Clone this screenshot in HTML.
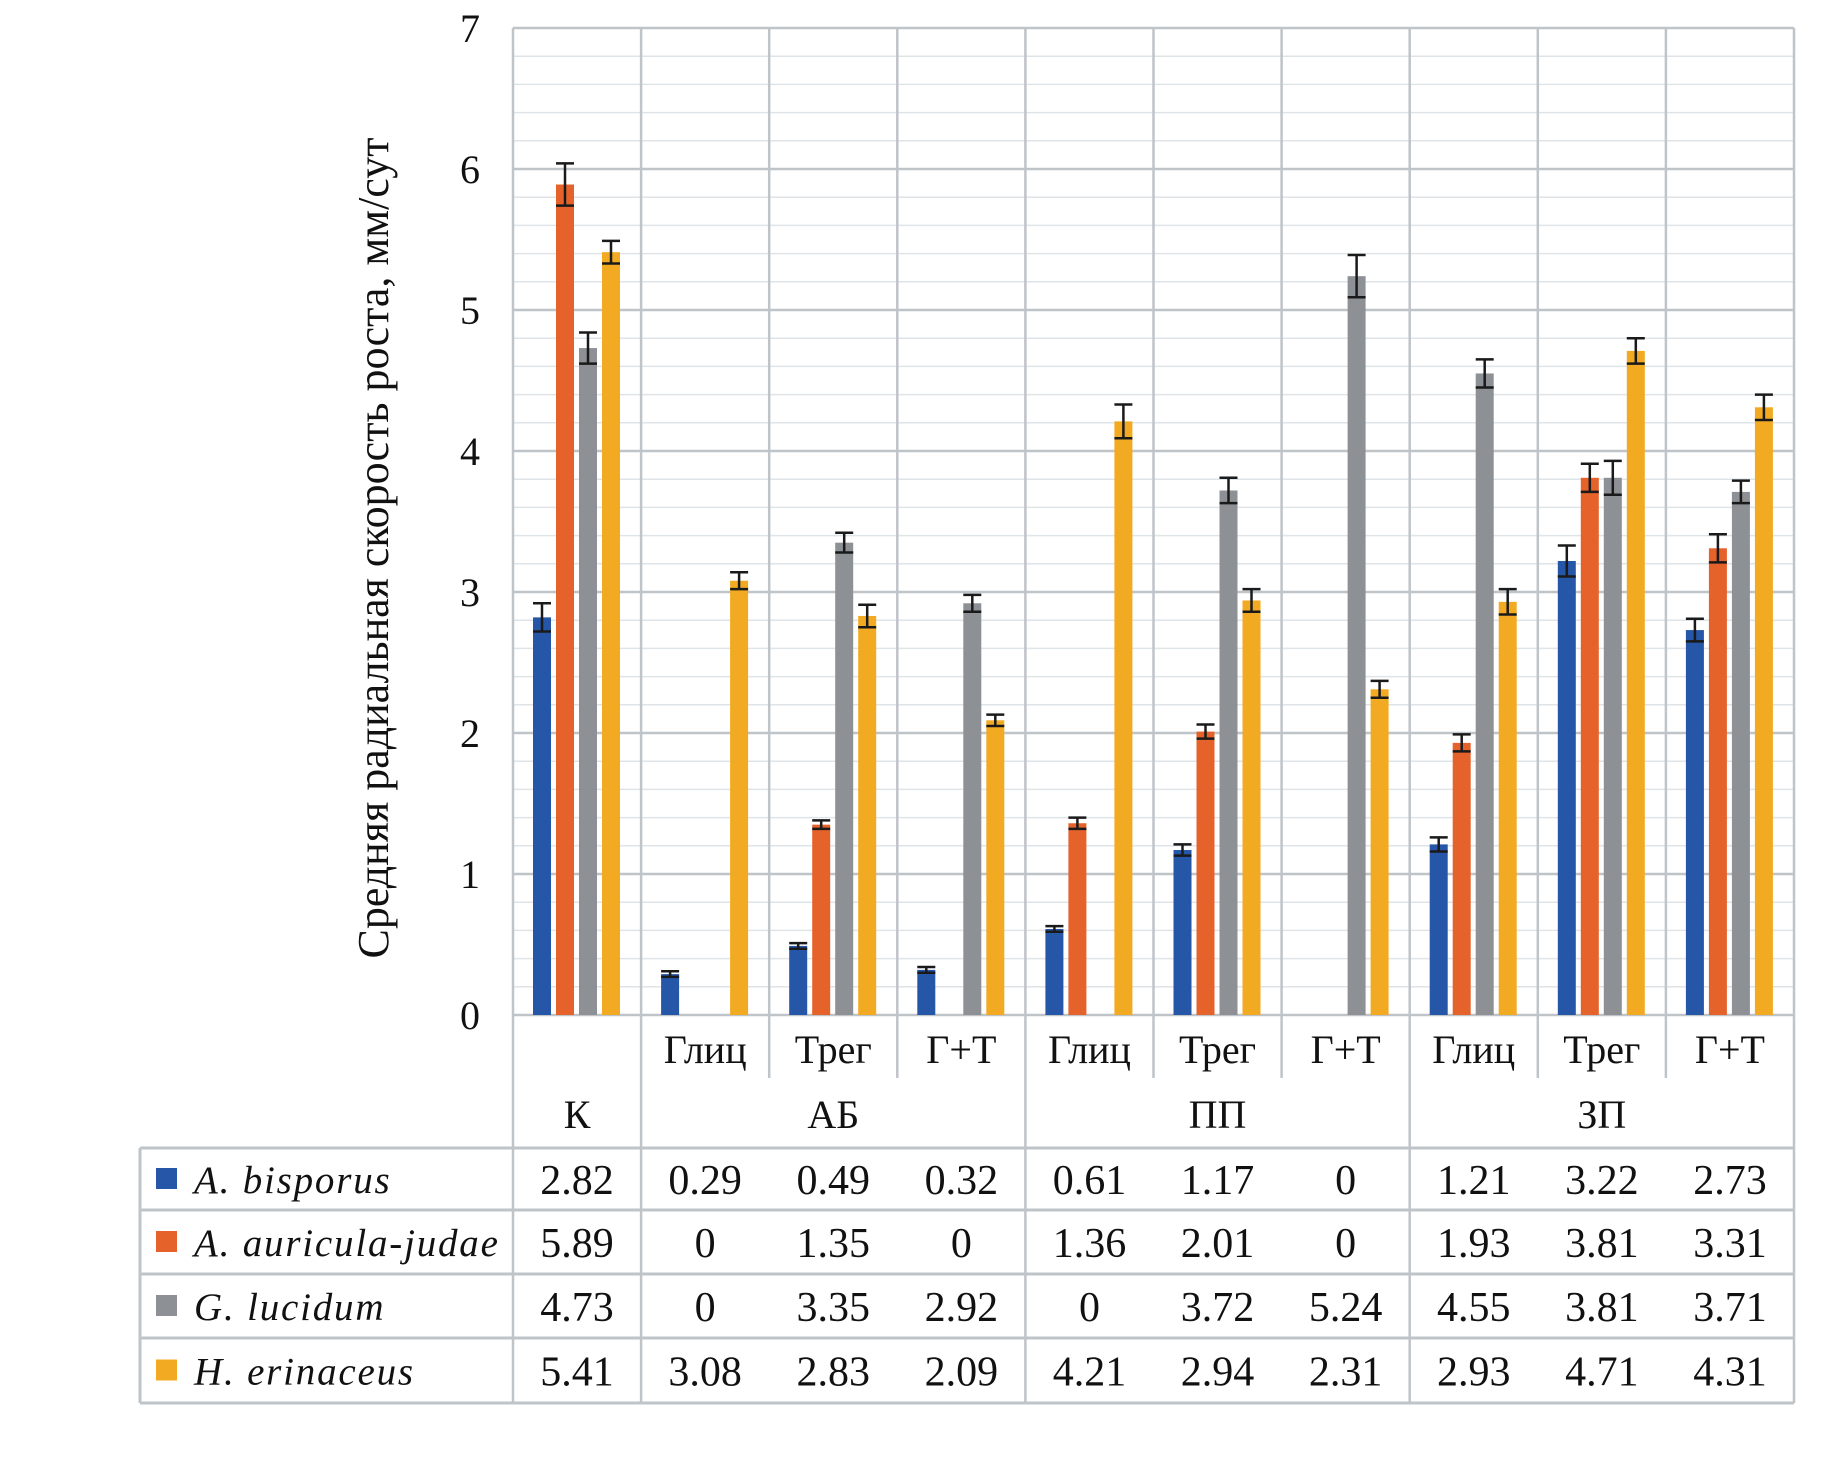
<!DOCTYPE html>
<html><head><meta charset="utf-8"><style>
body{margin:0;background:#fff;}
svg{display:block;font-family:"Liberation Serif","DejaVu Serif",serif;}
</style></head><body>
<svg id="chart" width="1835" height="1465" viewBox="0 0 1835 1465"></svg>
<script>
const categories=["К","Глиц","Трег","Г+Т","Глиц","Трег","Г+Т","Глиц","Трег","Г+Т"];
const groups=[["К",0,1],["АБ",1,4],["ПП",4,7],["ЗП",7,10]];
const seriesNames=["A. bisporus","A. auricula-judae","G. lucidum","H. erinaceus"];
const seriesColors=["#2556a8","#e5622b","#8d9095","#f2aa22"];
const bisporus=[2.82,0.29,0.49,0.32,0.61,1.17,0,1.21,3.22,2.73];
const auricula=[5.89,0,1.35,0,1.36,2.01,0,1.93,3.81,3.31];
const lucidum=[4.73,0,3.35,2.92,0,3.72,5.24,4.55,3.81,3.71];
const erinaceus=[5.41,3.08,2.83,2.09,4.21,2.94,2.31,2.93,4.71,4.31];
const errBisporus=[0.1,0.02,0.02,0.02,0.02,0.04,0,0.05,0.11,0.08];
const errAuricula=[0.15,0,0.03,0,0.04,0.05,0,0.06,0.1,0.1];
const errLucidum=[0.11,0,0.07,0.06,0,0.09,0.15,0.1,0.12,0.08];
const errErinaceus=[0.08,0.06,0.08,0.04,0.12,0.08,0.06,0.09,0.09,0.09];
const yTicks=[0,1,2,3,4,5,6,7];
const series=[bisporus,auricula,lucidum,erinaceus];
const errs=[errBisporus,errAuricula,errLucidum,errErinaceus];

const NS="http://www.w3.org/2000/svg";
const svg=document.getElementById('chart');
const L=513,R=1794,T=28,B=1015,CW=(R-L)/10;
const yMax=7;
function y(v){return B-(v/yMax)*(B-T);}
function xc(i){return L+i*CW;}
function mk(tag,attrs,parent){const e=document.createElementNS(NS,tag);for(const k in attrs)e.setAttribute(k,attrs[k]);(parent||svg).appendChild(e);return e;}
function txt(s,attrs){const e=mk('text',attrs);e.textContent=s;return e;}

for(let v=0;v<yMax;v+=0.2){
  const l=mk('line',{x1:L,x2:R,y1:y(v),y2:y(v),stroke:'#dfe4e8','stroke-width':1.5});
  
  
}
yTicks.forEach(v=>{
  const l=mk('line',{x1:L,x2:R,y1:y(v),y2:y(v),stroke:'#bfc4c9','stroke-width':2.5});
  
  
  const t=txt(String(v),{x:470,y:y(v)+14,'font-size':40,'text-anchor':'middle',fill:'#111'});
  
  
});
for(let i=0;i<=10;i++){
  const full=[0,1,4,7,10].includes(i);
  const bottom=full?1403:1078;
  const l=mk('line',{x1:xc(i),x2:xc(i),y1:T,y2:bottom,stroke:'#bfc4c9','stroke-width':2.5});
  
  
}
const step=23,bw=18,off=20;
series.forEach((s,si)=>{
  s.forEach((v,i)=>{
    const bx=xc(i)+off+si*step;
    if(v>0){
      const r=mk('rect',{x:bx,y:y(v),width:bw,height:B-y(v),fill:seriesColors[si]});
      
      
      const e=errs[si][i];
      const cx=bx+bw/2;
      const g=mk('g',{stroke:'#1a1a1a','stroke-width':2.5});
      
      
      mk('line',{x1:cx,x2:cx,y1:y(v+e),y2:y(v-e)},g);
      mk('line',{x1:cx-9,x2:cx+9,y1:y(v+e),y2:y(v+e)},g);
      mk('line',{x1:cx-9,x2:cx+9,y1:y(v-e),y2:y(v-e)},g);
    }
  });
});
categories.forEach((c,i)=>{
  if(i===0)return;
  const t=txt(c,{x:xc(i)+CW/2,y:1063,'font-size':40,'text-anchor':'middle',fill:'#111'});
  
  
});
groups.forEach(g=>{
  const t=txt(g[0],{x:(xc(g[1])+xc(g[2]))/2,y:1128,'font-size':40,'text-anchor':'middle',fill:'#111'});
  
  
});
const rows=[1148,1210,1274,1338,1403];
rows.forEach((ry,ri)=>{
  const l=mk('line',{x1:140,x2:R,y1:ry,y2:ry,stroke:'#bfc4c9','stroke-width':3});
  
  
});
const lv=mk('line',{x1:140,x2:140,y1:1148,y2:1403,stroke:'#bfc4c9','stroke-width':3});


series.forEach((s,si)=>{
  const cy=(rows[si]+rows[si+1])/2;
  const sw=mk('rect',{x:156,y:cy-11,width:21,height:21,fill:seriesColors[si]});
  
  
  const t=txt(seriesNames[si],{x:194,y:cy+14,'font-size':39,'font-style':'italic',fill:'#111','letter-spacing':'1.8'});
  
  
  s.forEach((v,i)=>{
    const c=txt(String(v),{x:xc(i)+CW/2,y:cy+15,'font-size':42,'text-anchor':'middle',fill:'#111'});
    
    
  });
});
const yt=txt("Средняя  радиальная скорость роста, мм/сут",{x:0,y:0,'font-size':44,'text-anchor':'middle',fill:'#111',transform:'translate(388,548) rotate(-90)'});
yt.setAttribute('xml:space','preserve');


</script>
</body></html>
